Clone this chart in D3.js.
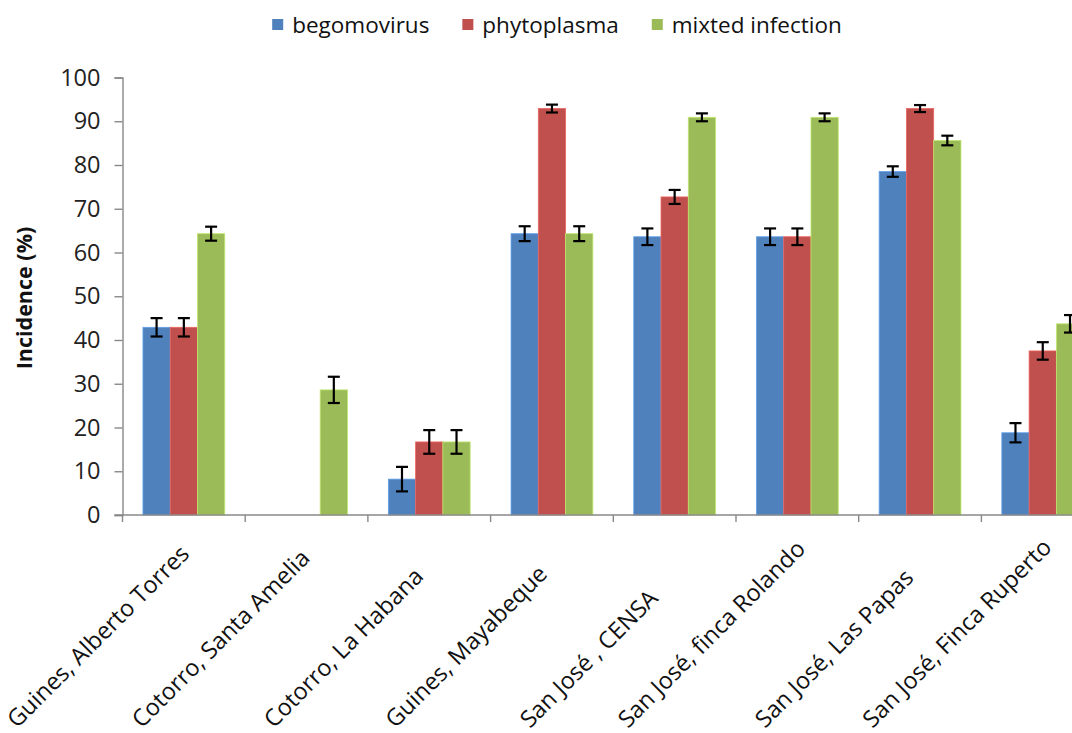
<!DOCTYPE html>
<html>
<head>
<meta charset="utf-8">
<script src="https://cdn.jsdelivr.net/npm/d3@7"></script>
<style>
  body { margin: 0; background: #fff; }
  svg { display: block; }
</style>
</head>
<body>
<div id="chart"></div>
<script>
// values (incidence %)
const categories = ["Guines, Alberto Torres", "Cotorro, Santa Amelia", "Cotorro, La Habana",
  "Guines, Mayabeque", "San José , CENSA", "San José, finca Rolando",
  "San José, Las Papas", "San José, Finca Ruperto"];
const seriesNames = ["begomovirus", "phytoplasma", "mixted infection"];
const begomovirus = [42.9, 0, 8.2, 64.3, 63.6, 63.6, 78.5, 18.8];
const phytoplasma = [42.9, 0, 16.7, 92.9, 72.7, 63.6, 92.9, 37.5];
const mixted = [64.3, 28.6, 16.7, 64.3, 90.9, 90.9, 85.6, 43.7];
const begomovirusErr = [2.1, 0, 2.8, 1.7, 1.9, 1.9, 1.2, 2.2];
const phytoplasmaErr = [2.1, 0, 2.7, 0.9, 1.6, 1.9, 0.8, 2.0];
const mixtedErr = [1.6, 3.0, 2.7, 1.7, 0.9, 0.9, 1.1, 2.0];
const yTicks = [0, 10, 20, 30, 40, 50, 60, 70, 80, 90, 100];
const colors = ["#4f81bd", "#c0504d", "#9bbb59"];

const width = 1072, height = 733;
const plotLeft = 122.5, plotTop = 77.5, plotBottom = 515;
const step = 122.7;

const values = [begomovirus, phytoplasma, mixted];
const errors = [begomovirusErr, phytoplasmaErr, mixtedErr];

const svg = d3.select("#chart").append("svg")
  .attr("width", width)
  .attr("height", height);

const x = d3.scaleBand()
  .domain(categories)
  .range([plotLeft, plotLeft + step * categories.length]);

const xs = d3.scaleBand()
  .domain(seriesNames)
  .range([0, x.bandwidth()])
  .paddingOuter(0.75);

const y = d3.scaleLinear()
  .domain([0, 100])
  .range([plotBottom, plotTop]);

// bars
const groups = svg.append("g").selectAll("g")
  .data(categories)
  .enter().append("g")
  .attr("transform", d => `translate(${x(d)},0)`);

groups.selectAll("rect")
  .data((d, i) => seriesNames.map((s, j) => ({s: s, j: j, v: values[j][i], e: errors[j][i]})))
  .enter().append("rect")
  .attr("x", d => xs(d.s))
  .attr("y", d => y(d.v))
  .attr("width", xs.bandwidth())
  .attr("height", d => y(0) - y(d.v))
  .style("fill", d => colors[d.j])
  .style("stroke", d => d3.color(colors[d.j]).brighter(0.6))
  .style("stroke-width", 0.8);

// error bars
const errG = groups.selectAll("g.err")
  .data((d, i) => seriesNames.map((s, j) => ({s: s, v: values[j][i], e: errors[j][i]})).filter(d => d.v > 0))
  .enter().append("g")
  .attr("class", "err")
  .attr("transform", d => `translate(${xs(d.s) + xs.bandwidth() / 2},0)`)
  .style("stroke", "#000")
  .style("stroke-width", 2.2);

errG.append("line")
  .attr("y1", d => y(d.v + d.e)).attr("y2", d => y(d.v - d.e));
errG.append("line")
  .attr("x1", -6).attr("x2", 6)
  .attr("y1", d => y(d.v + d.e)).attr("y2", d => y(d.v + d.e));
errG.append("line")
  .attr("x1", -6).attr("x2", 6)
  .attr("y1", d => y(d.v - d.e)).attr("y2", d => y(d.v - d.e));

// y axis
const yAxis = svg.append("g")
  .attr("transform", `translate(${plotLeft},0)`)
  .call(d3.axisLeft(y).tickValues(yTicks).tickSize(8).tickPadding(14));
yAxis.select(".domain").attr("stroke", "#888").attr("stroke-width", 1.4);
yAxis.selectAll(".tick line").attr("stroke", "#888").attr("stroke-width", 1.4);
yAxis.selectAll(".tick text")
  .style("font-family", "'Open Sans', sans-serif")
  .style("font-size", "23.5px")
  .style("fill", "#222");

// x axis line with ticks at category edges
const xAxis = svg.append("g").attr("class", "xaxis");
xAxis.append("line")
  .attr("x1", plotLeft - 8).attr("x2", plotLeft + step * categories.length)
  .attr("y1", plotBottom).attr("y2", plotBottom)
  .attr("stroke", "#888").attr("stroke-width", 1.4);
xAxis.selectAll("line.tk")
  .data(categories)
  .enter().append("line")
  .attr("class", "tk")
  .attr("x1", d => x(d)).attr("x2", d => x(d))
  .attr("y1", plotBottom).attr("y2", plotBottom + 7)
  .attr("stroke", "#888").attr("stroke-width", 1.4);

// rotated category labels, bottom aligned, centred left of the category
xAxis.selectAll("text")
  .data(categories)
  .enter().append("text")
  .text(d => d)
  .style("font-family", "'Open Sans', sans-serif")
  .style("font-size", "23.5px")
  .style("fill", "#111")
  .attr("text-anchor", "middle")
  .each(function(d) {
    const L = this.getComputedTextLength();
    const cx = x(d) + x.bandwidth() / 2 - 80;
    const cy = 729 - L * 0.3536;
    d3.select(this).attr("transform", `translate(${cx},${cy}) rotate(-45)`);
  });

// y axis title
svg.append("text")
  .attr("transform", "translate(32,298) rotate(-90)")
  .attr("text-anchor", "middle")
  .style("font-family", "'Open Sans', sans-serif")
  .style("font-size", "21.5px")
  .style("font-weight", "bold")
  .style("fill", "#111")
  .text("Incidence (%)");

// legend
const legend = svg.append("g");
let lx = 0;
seriesNames.forEach((s, i) => {
  const item = legend.append("g").attr("transform", `translate(${lx},0)`);
  item.append("rect")
    .attr("x", 0).attr("y", 19).attr("width", 11).attr("height", 11)
    .style("fill", colors[i]);
  const t = item.append("text")
    .attr("x", 20).attr("y", 32.5)
    .style("font-family", "'Open Sans', sans-serif")
    .style("font-size", "22.5px")
    .style("fill", "#111")
    .text(s);
  lx += 20 + t.node().getComputedTextLength() + 33;
});
const legendW = lx - 33;
legend.attr("transform", `translate(${557 - legendW / 2},0)`);
</script>
</body>
</html>
